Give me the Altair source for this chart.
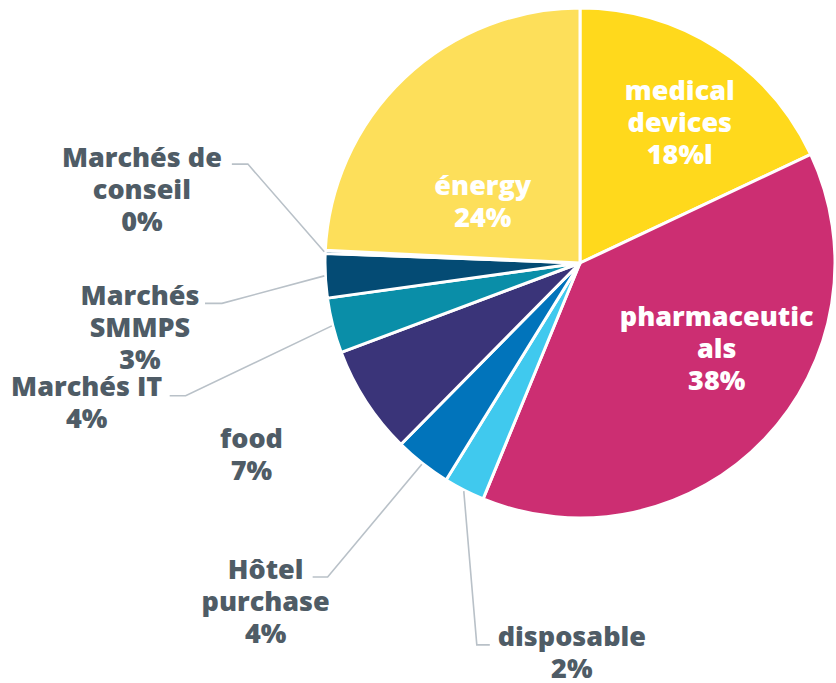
import altair as alt
import numpy as np
import pandas as pd

# ---- data ----
categories = ["medical devices", "pharmaceuticals", "disposable", "Hôtel purchase",
              "food", "Marchés IT", "Marchés SMMPS", "Marchés de conseil", "énergy"]
values = [18.0, 38.2, 2.6, 3.6, 6.9, 3.5, 2.8, 0.2, 24.2]
label_texts = ["medical\ndevices\n18%l", "pharmaceutic\nals\n38%", "disposable\n2%",
               "Hôtel\npurchase\n4%", "food\n7%", "Marchés IT\n4%", "Marchés\nSMMPS\n3%",
               "Marchés de\nconseil\n0%", "énergy\n24%"]
colors = ["#FFD91C", "#CC2E72", "#40C9EE", "#0174BB", "#3A3479", "#0A8EA8",
          "#044B74", "#044B74", "#FDDF5A"]
inside = [True, True, False, False, False, False, False, False, True]

# ---- layout (label placement, polar around pie centre) ----
CX, CY, R = 580, 263, 255
LH = 32
label_radius = [171, 162, 391, 463, 381, 513, 445, 444, 114]
label_nudge = [3.3, -11.1, -25.8, 4.6, 2.5, -1.7, -5.7, 6.8, -14.9]  # degrees from slice middle
has_leader = [False, False, True, True, False, True, True, True, False]
leader_elbow = [None, None, (-95, -9), (62, -26), None, (99, -8), (82, -26), (106, -27), None]
leader_tail = [0, 0, 13, -15, 0, -16, -17, -16, 0]

order = list(range(len(categories)))
df = pd.DataFrame({"cat": categories, "value": values, "order": order})

total = sum(values)
cum = np.cumsum([0] + values[:-1])
mid_deg = [(c + v / 2) / total * 360 for c, v in zip(cum, values)]

lab_rows = []
lead_rows = []
for i, cat in enumerate(categories):
    a = np.radians(mid_deg[i] + label_nudge[i])
    lx = CX + label_radius[i] * np.sin(a)
    ly = CY - label_radius[i] * np.cos(a)
    n_lines = label_texts[i].count("\n") + 1
    lab_rows.append({"cat": cat, "text": label_texts[i], "x": lx,
                     "y": ly - (n_lines - 1) * LH / 2,
                     "inside": "in" if inside[i] else "out"})
    if has_leader[i]:
        m = np.radians(mid_deg[i])
        ex, ey = CX + (R + 1) * np.sin(m), CY - (R + 1) * np.cos(m)
        bx, by = lx + leader_elbow[i][0], ly + leader_elbow[i][1]
        tx, ty = bx + leader_tail[i], by
        for k, (px, py) in enumerate([(ex, ey), (bx, by), (tx, ty)]):
            lead_rows.append({"cat": cat, "k": k, "x": px, "y": py})
labels_df = pd.DataFrame(lab_rows)
leads_df = pd.DataFrame(lead_rows)

pie = alt.Chart(df).mark_arc(outerRadius=R, stroke="white", strokeWidth=3).encode(
    theta=alt.Theta("value:Q", stack=True),
    color=alt.Color("cat:N", scale=alt.Scale(domain=categories, range=colors), legend=None),
    order=alt.Order("order:Q"),
    x=alt.value(CX),
    y=alt.value(CY),
)

leaders = alt.Chart(leads_df).mark_line(color="#B9C1C8", strokeWidth=1.6).encode(
    x=alt.X("x:Q", scale=None),
    y=alt.Y("y:Q", scale=None),
    detail="cat:N",
    order="k:Q",
)

text_base = alt.Chart(labels_df).mark_text(
    font="Open Sans", fontWeight=800, fontSize=27, lineBreak="\n", lineHeight=LH,
    align="center", baseline="middle",
).encode(
    x=alt.X("x:Q", scale=None),
    y=alt.Y("y:Q", scale=None),
    text="text:N",
)
text_in = text_base.transform_filter(alt.datum.inside == "in").encode(color=alt.value("white"))
text_out = text_base.transform_filter(alt.datum.inside == "out").encode(color=alt.value("#4F5C66"))

chart = alt.layer(pie, leaders, text_in, text_out).properties(
    width=836, height=683, padding=0, autosize=alt.AutoSizeParams(type="none")
).configure_view(stroke=None)

chart.save("out.html", embed_options={"renderer": "svg", "actions": False})
